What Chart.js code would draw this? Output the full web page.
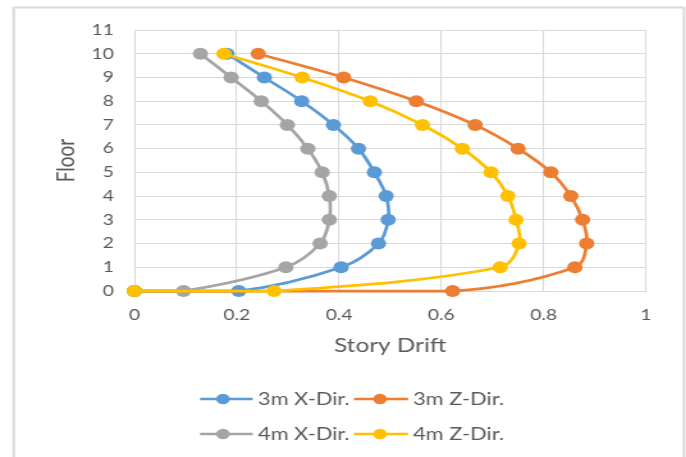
<!DOCTYPE html>
<html>
<head>
<meta charset="utf-8">
<script src="https://cdn.jsdelivr.net/npm/chart.js@4/dist/chart.umd.min.js"></script>
<style>
  html, body { margin: 0; padding: 0; background: #fff; overflow: hidden; }
  /* the reference picture is stretched sideways, so stretch the canvas the same way */
  #wrap { width: 536px; height: 457px; transform: scaleX(1.28); transform-origin: 0 0; }
</style>
</head>
<body>
<div id="wrap"><canvas id="chartCanvas" width="536" height="457"></canvas></div>
<script>
// --- data ---
const floors = [0, 0, 1, 2, 3, 4, 5, 6, 7, 8, 9, 10];
const drift3mX = [0, 0.204, 0.404, 0.477, 0.496, 0.492, 0.469, 0.438, 0.389, 0.327, 0.254, 0.181];
const drift3mZ = [0, 0.622, 0.861, 0.884, 0.876, 0.853, 0.814, 0.750, 0.666, 0.551, 0.409, 0.242];
const drift4mX = [0, 0.096, 0.296, 0.363, 0.381, 0.381, 0.367, 0.339, 0.299, 0.248, 0.189, 0.129];
const drift4mZ = [0, 0.273, 0.715, 0.752, 0.746, 0.730, 0.697, 0.641, 0.563, 0.461, 0.328, 0.175];

const seriesLabels = ["3m X-Dir.", "3m Z-Dir.", "4m X-Dir.", "4m Z-Dir."];
const seriesColors = ["#5B9BD5", "#ED7D31", "#A5A5A5", "#FFC000"];

const xTicks = [0, 0.2, 0.4, 0.6, 0.8, 1];
const yTicks = [0, 1, 2, 3, 4, 5, 6, 7, 8, 9, 10, 11];

const FONT = "Lato, 'Open Sans', sans-serif";
const TEXT = "#595959";
const GRID = "#d9d9d9";

const toPoints = xs => xs.map((x, i) => ({ x, y: floors[i] }));

// Excel draws later series on top, Chart.js draws lower "order" on top
const datasets = [drift3mX, drift3mZ, drift4mX, drift4mZ].map((xs, i) => ({
  label: seriesLabels[i],
  data: toPoints(xs),
  showLine: true,
  tension: 0.35,
  clip: false,
  borderColor: seriesColors[i],
  backgroundColor: seriesColors[i],
  borderWidth: 2.75,
  pointRadius: 6,
  pointBorderWidth: 0,
  pointHoverRadius: 6,
  order: 3 - i
}));

// outer frame of the chart object
const framePlugin = {
  id: "frame",
  afterDraw(chart) {
    const ctx = chart.ctx;
    ctx.save();
    ctx.strokeStyle = GRID;
    ctx.lineWidth = 2;
    ctx.beginPath();
    ctx.moveTo(10.7, 470);
    ctx.lineTo(10.7, 7.5);
    ctx.lineTo(534.4, 7.5);
    ctx.lineTo(534.4, 470);
    ctx.stroke();
    ctx.restore();
  }
};

// legend in two rows of two, like the Excel one
const legendPlugin = {
  id: "twoRowLegend",
  afterDraw(chart) {
    const ctx = chart.ctx;
    const cols = [{ x0: 156.3, x1: 197.4, dot: 174.2, text: 201.6 },
                  { x0: 276.6, x1: 318.8, dot: 296.9, text: 322.7 }];
    const rows = [399, 434];
    ctx.save();
    ctx.font = `17px ${FONT}`;
    ctx.textBaseline = "middle";
    chart.data.datasets.forEach((ds, i) => {
      const c = cols[i % 2], y = rows[Math.floor(i / 2)];
      ctx.strokeStyle = ds.borderColor;
      ctx.lineWidth = 2.5;
      ctx.beginPath();
      ctx.moveTo(c.x0, y);
      ctx.lineTo(c.x1, y);
      ctx.stroke();
      ctx.fillStyle = ds.backgroundColor;
      ctx.beginPath();
      ctx.arc(c.dot, y, 5.3, 0, Math.PI * 2);
      ctx.fill();
      ctx.fillStyle = TEXT;
      ctx.fillText(ds.label, c.text, y + 1);
    });
    ctx.restore();
  }
};

new Chart(document.getElementById("chartCanvas"), {
  type: "scatter",
  data: { datasets },
  plugins: [framePlugin, legendPlugin],
  options: {
    responsive: false,
    animation: false,
    layout: { padding: { top: 30, left: 0, right: 31.3, bottom: 96 } },
    plugins: {
      legend: { display: false },
      tooltip: { enabled: false }
    },
    scales: {
      x: {
        type: "linear",
        min: 0,
        max: 1,
        afterBuildTicks: s => { s.ticks = xTicks.map(v => ({ value: v })); },
        afterFit: s => { s.height = 70; },
        ticks: { padding: 15, color: TEXT, font: { family: FONT, size: 15 }, callback: v => String(v) },
        grid: { color: GRID, lineWidth: 1, drawTicks: false },
        border: { color: GRID },
        title: { display: true, text: "Story Drift", color: TEXT, font: { family: FONT, size: 19 }, padding: { bottom: 4 } }
      },
      y: {
        type: "linear",
        min: 0,
        max: 11,
        afterBuildTicks: s => { s.ticks = yTicks.map(v => ({ value: v })); },
        afterFit: s => { s.width = 105; },
        ticks: { padding: 16, color: TEXT, font: { family: FONT, size: 15 }, callback: v => String(v) },
        grid: { color: GRID, lineWidth: 1, drawTicks: false },
        border: { color: GRID },
        title: { display: true, text: "Floor", color: TEXT, font: { family: FONT, size: 19 }, padding: { top: 40 } }
      }
    }
  }
});
</script>
</body>
</html>
